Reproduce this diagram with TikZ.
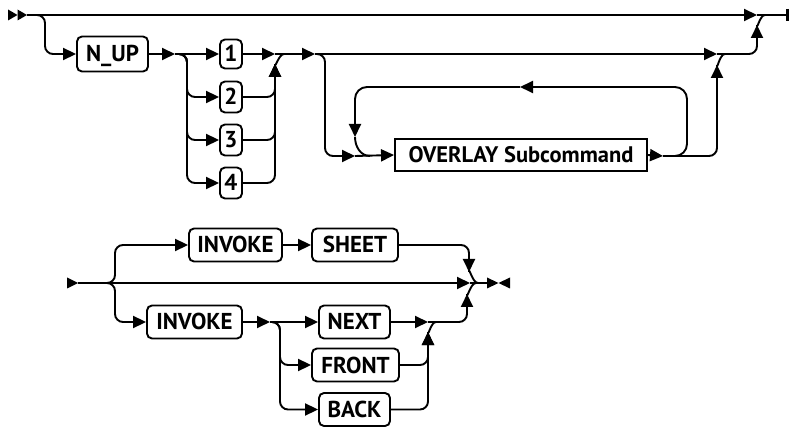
\documentclass[tikz,border=0pt]{standalone}
\usepackage{fontspec}
\setmainfont{PT Sans}
\usetikzlibrary{arrows.meta}
\begin{document}
\begin{tikzpicture}[x=1pt,y=-1pt,
  line width=1.9pt,
  arr/.style={-{Triangle[length=13pt,width=12pt]}},
  kw/.style={draw, rounded corners=5pt, inner sep=0pt, minimum height=33pt,
    font=\bfseries\fontsize{23}{27}\selectfont, text height=16pt, text depth=0pt},
  ref/.style={draw, inner sep=0pt, minimum height=32pt,
    font=\bfseries\fontsize{22.5}{27}\selectfont, text height=16pt, text depth=0pt},
  rc/.style={rounded corners=8pt},
  tipfill/.style={fill=black, draw=none}]
\useasboundingbox (0,0) rectangle (789,427);

% ---------- top diagram ----------
\fill[tipfill] (8,9.5) -- (17.5,15) -- (8,20.5) -- cycle;
\fill[tipfill] (17.5,9.5) -- (27,15) -- (17.5,20.5) -- cycle;
\coordinate (s1) at (27,15);
\coordinate (m1) at (757,15);
\coordinate (e1) at (787,15);
\draw[arr] (s1) -- (m1);
\draw (m1) -- (e1);
\draw[line width=2.6pt] (787.5,9) -- (787.5,21);

\node[kw, minimum width=71pt, minimum height=35pt] (nup) at (112.5,54) {N\_UP};
\node[kw, minimum width=22pt, minimum height=29pt] (d1) at (231,54) {1};
\node[kw, minimum width=22pt, minimum height=31pt] (d2) at (231,97) {2};
\node[kw, minimum width=22pt, minimum height=31pt] (d3) at (231,140) {3};
\node[kw, minimum width=22pt, minimum height=31pt] (d4) at (231,183) {4};
\node[ref, minimum width=252pt] (ov) at (521,155) {OVERLAY Subcommand\hspace{11pt}};

\coordinate (b1) at (36,15);
\draw[arr, rc] (b1) -| (45,54) -- (nup.west);
\coordinate (j1) at (175,54);
\draw[arr] (nup.east) -- (j1);
\draw[arr] (j1) -- (d1.west);
\coordinate (b2) at (178,54);
\draw[arr, rc] (b2) -| (187,97) -- (d2.west);
\draw[arr, rc] (b2) -| (187,140) -- (d3.west);
\draw[arr, rc] (b2) -| (187,183) -- (d4.west);

\coordinate (m2) at (275,54);
\coordinate (m2u) at (275,64);
\draw[arr] (d1.east) -- (m2);
\draw[arr, rc] (d2.east) -| (m2u);
\draw[arr, rc] (d3.east) -| (m2u);
\draw[arr, rc] (d4.east) -| (m2u);
\draw (m2u) to[out=-90,in=180] (284,54);

\coordinate (j2) at (315,54);
\coordinate (m3) at (717,54);
\coordinate (m3u) at (717,65);
\coordinate (m1u) at (757,25);
\draw[arr] (m2) -- (j2);
\draw[arr] (j2) -- (m3);
\draw[arr, rc] (m3) -| (m1u);
\draw (m1u) to[out=-90,in=180] (765,15);

\coordinate (b3) at (316,54);
\coordinate (j3) at (355,156);
\draw[arr, rc] (b3) -| (325,156) -- (j3);
\draw[arr] (j3) -- (ov.west);
\coordinate (j4) at (663,156);
\draw[arr] (ov.east) -- (j4);
% repeat loop
\coordinate (lp) at (520,87);
\coordinate (lpd) at (355,137);
\draw[arr, rounded corners=12pt] (j4) -| (687,87) -- (lp);
\draw[arr, rounded corners=12pt] (lp) -| (lpd);
\draw (lpd) to[out=-90,in=180] (370,156);
% to merge
\draw[arr, rc] (j4) -| (m3u);
\draw (m3u) to[out=-90,in=180] (725,54);

% ---------- bottom diagram ----------
\fill[tipfill] (67,277.5) -- (78,283) -- (67,288.5) -- cycle;
\coordinate (s2) at (78,283);
\coordinate (m4) at (470,283);
\coordinate (e2) at (487,283);
\draw[arr] (s2) -- (m4);
\draw (m4) -- (e2);
\fill[tipfill] (487,277.5) -- (498.5,283) -- (487,288.5) -- cycle;
\fill[tipfill] (510,277.5) -- (498.5,283) -- (510,288.5) -- cycle;

\node[kw, minimum width=93pt] (inv1) at (235.5,245) {INVOKE};
\node[kw, minimum width=86pt] (sheet) at (355,245) {SHEET};
\node[kw, minimum width=95pt] (inv2) at (194.5,322) {INVOKE};
\node[kw, minimum width=71pt] (next) at (354.5,322) {NEXT};
\node[kw, minimum width=87pt] (front) at (355.5,365) {FRONT};
\node[kw, minimum width=71pt] (back) at (354.5,409.5) {BACK};

\coordinate (b4) at (106,283);
\draw[arr, rc] (b4) -| (115,245) -- (inv1.west);
\draw[arr] (inv1.east) -- (sheet.west);
\coordinate (m4d) at (469,272);
\draw[arr, rc] (sheet.east) -| (m4d);
\draw (m4d) to[out=90,in=180] (478,283);

\draw[arr, rc] (b4) -| (115,322) -- (inv2.west);
\coordinate (j5) at (270,322);
\draw[arr] (inv2.east) -- (j5);
\draw[arr] (j5) -- (next.west);
\coordinate (b5) at (271,322);
\draw[arr, rc] (b5) -| (280,365) -- (front.west);
\draw[arr, rc] (b5) -| (280,409.5) -- (back.west);

\coordinate (m5) at (428,322);
\coordinate (m5u) at (428,332);
\draw[arr] (next.east) -- (m5);
\draw[arr, rc] (front.east) -| (m5u);
\draw[arr, rc] (back.east) -| (m5u);
\draw (m5u) to[out=-90,in=180] (436,322);
\coordinate (m4u) at (467,294);
\draw[arr, rc] (m5) -| (m4u);
\draw (m4u) to[out=-90,in=180] (476,283);
\end{tikzpicture}
\end{document}
